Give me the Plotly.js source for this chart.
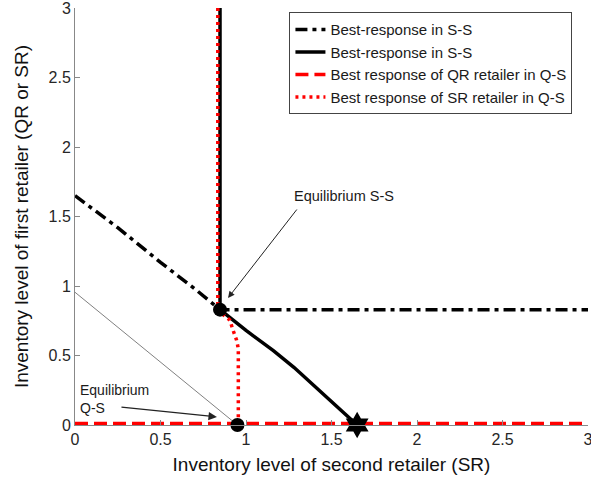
<!DOCTYPE html>
<html>
<head>
<meta charset="utf-8">
<script src="https://cdn.plot.ly/plotly-3.0.1.min.js"></script>
<style>html,body{margin:0;padding:0;background:#fff;}#chart{width:591px;height:481px;}</style>
</head>
<body>
<div id="chart"></div>
<script>
// Best-response in S-S (dash-dot): first retailer vs second retailer
const ssDashX = [0, 0.25, 0.5, 0.7, 0.848, 3];
const ssDashY = [1.65, 1.42, 1.17, 0.98, 0.83, 0.83];
// Best-response in S-S (solid)
const ssSolidX = [0.848, 0.848, 1.0, 1.16, 1.28, 1.45, 1.65];
const ssSolidY = [3, 0.83, 0.68, 0.535, 0.415, 0.225, 0];
// Best response of QR retailer in Q-S (dashed)
const qrX = [0, 3];
const qrY = [0.01, 0.01];
// Best response of SR retailer in Q-S (dotted)
const srX = [0.835, 0.835, 0.87, 0.905, 0.925, 0.945, 0.955, 0.955];
const srY = [3, 0.83, 0.79, 0.755, 0.68, 0.61, 0.55, 0.01];
// thin helper line
const guideX = [0, 0.95];
const guideY = [0.955, 0];
// equilibria
const eqCircleX = [0.848, 0.95];
const eqCircleY = [0.83, 0];
const eqStarX = [1.65];
const eqStarY = [0];
const tickVals = [0, 0.5, 1, 1.5, 2, 2.5, 3];
const tickText = ['0', '0.5', '1', '1.5', '2', '2.5', '3'];

const legendNames = [
  "Best-response in S-S",
  "Best-response in S-S",
  "Best response of QR retailer in Q-S",
  "Best response of SR retailer in Q-S"
];

const traces = [
  {x: guideX, y: guideY, mode: 'lines', line: {color: '#808080', width: 1}, showlegend: false, hoverinfo: 'skip'},
  {x: ssDashX, y: ssDashY, mode: 'lines', name: legendNames[0], line: {color: '#000', width: 3.5, dash: '12px,5px,4px,5px'}, legendrank: 1},
  {x: ssSolidX, y: ssSolidY, mode: 'lines', name: legendNames[1], line: {color: '#000', width: 3.5}, legendrank: 2},
  {x: qrX, y: qrY, mode: 'lines', name: legendNames[2], line: {color: '#ff0000', width: 3.5, dash: '13px,6px'}, legendrank: 3},
  {x: srX, y: srY, mode: 'lines', name: legendNames[3], line: {color: '#ff0000', width: 3.5, dash: '3px,4px'}, legendrank: 4},
  {x: eqCircleX, y: eqCircleY, mode: 'markers', marker: {symbol: 'circle', size: 14, color: '#000'}, showlegend: false, cliponaxis: false},
  {x: eqStarX, y: eqStarY, mode: 'markers', marker: {symbol: 'hexagram', size: 20, color: '#000'}, showlegend: false, cliponaxis: false}
];

const fontFam = 'Arial, "Liberation Sans", sans-serif';

const axisCommon = {
  range: [0, 3], tickvals: tickVals, ticktext: tickText,
  showgrid: false, zeroline: false, showline: true, linecolor: '#888', linewidth: 1,
  ticks: 'inside', ticklen: 5, tickcolor: '#888',
  tickfont: {size: 16, color: '#262626'}, ticklabeloverflow: 'allow'
};

const layout = {
  width: 591, height: 481,
  margin: {l: 75, r: 3, t: 8, b: 56},
  paper_bgcolor: '#fff', plot_bgcolor: '#fff',
  font: {family: fontFam, color: '#262626'},
  showlegend: true,
  legend: {
    x: 0.418, y: 0.99, xanchor: 'left', yanchor: 'top',
    bgcolor: '#fff', bordercolor: '#444', borderwidth: 1,
    font: {size: 15, color: '#1a1a1a', family: fontFam},
    tracegroupgap: 0, itemwidth: 30
  },
  xaxis: Object.assign({}, axisCommon, {
    title: {text: 'Inventory level of second retailer (SR)', font: {size: 19, color: '#111'}, standoff: 10}
  }),
  yaxis: Object.assign({}, axisCommon, {
    title: {text: 'Inventory level of first retailer (QR or SR)', font: {size: 19, color: '#111'}, standoff: 14}
  }),
  annotations: [
    {x: 1.27, y: 1.647, xref: 'x', yref: 'y', text: 'Equilibrium S-S', showarrow: false, xanchor: 'left', yanchor: 'middle', font: {size: 14.5, color: '#1a1a1a'}},
    {x: 0.895, y: 0.914, ax: 1.304, ay: 1.561, xref: 'x', yref: 'y', axref: 'x', ayref: 'y', text: '', showarrow: true, arrowhead: 2, arrowsize: 1.3, arrowwidth: 1, arrowcolor: '#222'},
    {x: 0.02, y: 0.187, xref: 'x', yref: 'y', text: 'Equilibrium<br>Q-S', showarrow: false, xanchor: 'left', yanchor: 'middle', align: 'left', font: {size: 14, color: '#1a1a1a'}},
    {x: 0.83, y: 0.058, ax: 0.263, ay: 0.129, xref: 'x', yref: 'y', axref: 'x', ayref: 'y', text: '', showarrow: true, arrowhead: 2, arrowsize: 1.3, arrowwidth: 1.3, arrowcolor: '#222'}
  ]
};

Plotly.newPlot('chart', traces, layout, {staticPlot: true, displayModeBar: false});
</script>
</body>
</html>
